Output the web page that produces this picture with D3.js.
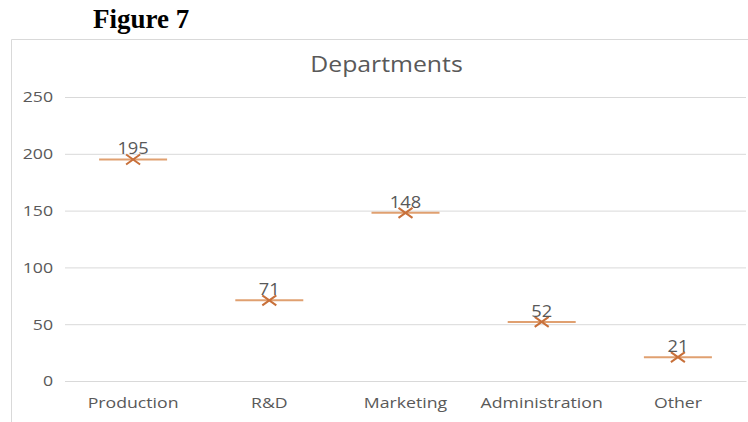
<!DOCTYPE html>
<html>
<head>
<meta charset="utf-8">
<script src="https://cdn.jsdelivr.net/npm/d3@7/dist/d3.min.js"></script>
<style>
  html, body { margin: 0; padding: 0; background: #fff; }
  svg { display: block; }
</style>
</head>
<body>
<svg id="chart" width="748" height="422"></svg>
<script>
// Department headcounts
const categories = ["Production", "R&D", "Marketing", "Administration", "Other"];
const values = [195, 71, 148, 52, 21];
const yTicks = [0, 50, 100, 150, 200, 250];

const W = 748, H = 422;
const svg = d3.select("#chart");
const textColor = "#595959";
const gridColor = "#d9d9d9";
const sansFont = "'Open Sans', 'Noto Sans', sans-serif";
const stretch = 1.18; // wide glyph proportions for chart text

// Caption above the chart frame
svg.append("text")
  .attr("x", 93).attr("y", 28)
  .attr("font-family", "'Liberation Serif', 'DejaVu Serif', serif")
  .attr("font-weight", "bold")
  .attr("font-size", 27)
  .attr("fill", "#000")
  .text("Figure 7");

// Chart frame (extends past the right and bottom edges)
svg.append("path")
  .attr("d", `M11.5,${H} L11.5,39.5 L${W},39.5`)
  .attr("fill", "none")
  .attr("stroke", gridColor)
  .attr("stroke-width", 1);

const plot = { left: 65, right: 746, top: 97, bottom: 381 };

const x = d3.scaleBand().domain(categories).range([plot.left, plot.right]);
const y = d3.scaleLinear().domain([0, 250]).range([plot.bottom, plot.top]);

function label(parent, px, py, str, size, anchor) {
  return parent.append("text")
    .attr("transform", `translate(${px},${py}) scale(${stretch},1)`)
    .attr("text-anchor", anchor)
    .attr("font-family", sansFont)
    .attr("font-size", size)
    .attr("fill", textColor)
    .text(str);
}

// Title
label(svg, 386.5, 72, "Departments", 21, "middle");

// Horizontal gridlines via a left axis
const yAxis = d3.axisLeft(y).tickValues(yTicks).tickSize(-(plot.right - plot.left)).tickPadding(0);
const gy = svg.append("g").attr("transform", `translate(${plot.left},0)`).call(yAxis);
gy.select(".domain").remove();
gy.selectAll(".tick line").attr("stroke", gridColor).attr("stroke-width", 1);
gy.selectAll(".tick text")
  .attr("x", 0)
  .attr("transform", `translate(-12,0) scale(${stretch},1)`)
  .attr("font-family", sansFont)
  .attr("font-size", 15)
  .attr("fill", textColor);

// Category axis
const xAxis = d3.axisBottom(x).tickSize(0).tickPadding(16);
const gx = svg.append("g").attr("transform", `translate(0,${plot.bottom})`).call(xAxis);
gx.select(".domain").attr("stroke", gridColor);
gx.selectAll(".tick text")
  .attr("transform", `scale(${stretch},1)`)
  .attr("font-family", sansFont)
  .attr("font-size", 15)
  .attr("fill", textColor);

// Markers: dash line plus cross at each value, with value label
const pts = svg.append("g");
const dashHalf = 34, xw = 7, xh = 5;
categories.forEach((c, i) => {
  const cx = x(c) + x.bandwidth() / 2;
  const cy = y(values[i]);
  pts.append("line")
    .attr("x1", cx - dashHalf).attr("x2", cx + dashHalf)
    .attr("y1", cy).attr("y2", cy)
    .attr("stroke", "#e0a070").attr("stroke-width", 2);
  pts.append("path")
    .attr("d", `M${cx - xw},${cy - xh} L${cx + xw},${cy + xh} M${cx - xw},${cy + xh} L${cx + xw},${cy - xh}`)
    .attr("stroke", "#c8703a").attr("stroke-width", 2).attr("fill", "none");
  label(pts, cx, cy - 5, values[i], 15.5, "middle");
});
</script>
</body>
</html>
